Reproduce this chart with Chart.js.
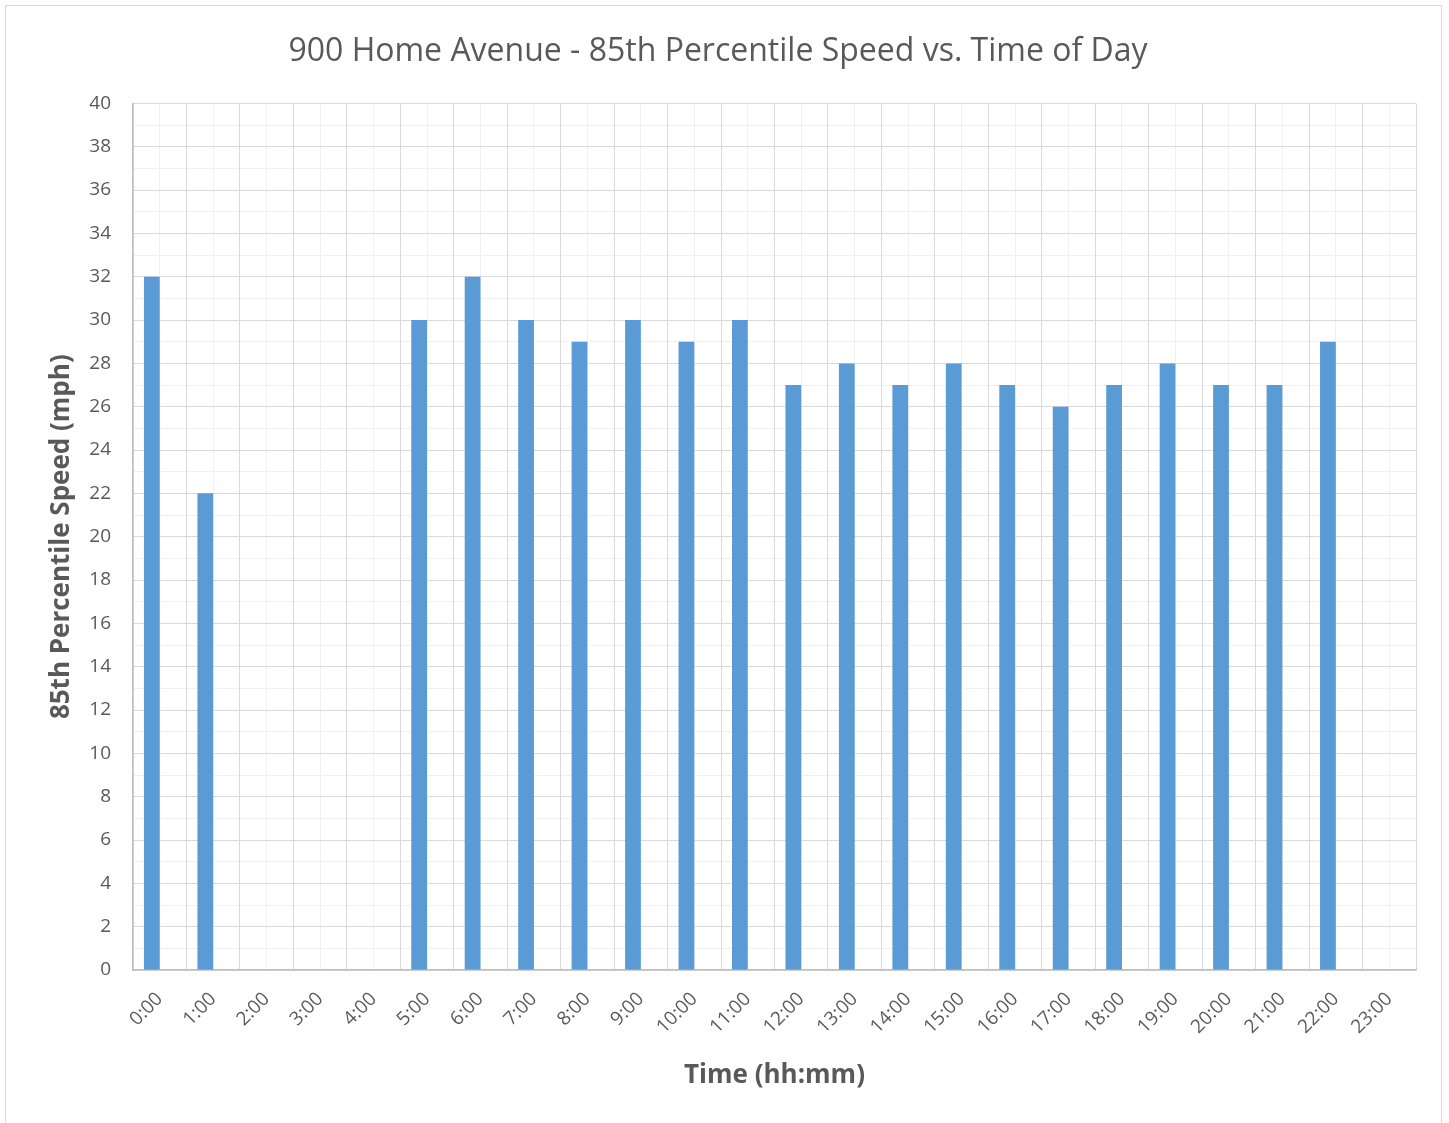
<!DOCTYPE html>
<html>
<head>
<meta charset="utf-8">
<script src="https://cdn.jsdelivr.net/npm/chart.js@4.4.1/dist/chart.umd.min.js"></script>
<style>
  html, body { margin: 0; padding: 0; background: #fff; }
  #wrap { position: absolute; left: 0; top: 0; width: 1449px; height: 1123px; }
  #frame { position: absolute; left: 5px; top: 5px; width: 1437px; height: 1125px; border: 1px solid #d9d9d9; box-sizing: border-box; }
  canvas { position: absolute; left: 0; top: 0; }
</style>
</head>
<body>
<div id="wrap">
  <div id="frame"></div>
  <canvas id="speedChart" width="1449" height="1123"></canvas>
</div>
<script>
// Datos del gráfico
const hourLabels = ['0:00', '1:00', '2:00', '3:00', '4:00', '5:00', '6:00', '7:00', '8:00', '9:00', '10:00', '11:00',
    '12:00', '13:00', '14:00', '15:00', '16:00', '17:00', '18:00', '19:00', '20:00', '21:00', '22:00', '23:00'];
const speed85 = [32, 22, null, null, null, 30, 32, 30, 29, 30, 29, 30,
    27, 28, 27, 28, 27, 26, 27, 28, 27, 27, 29, null];
const emptySeries = hourLabels.map(() => null);

const textColor = '#595959';
const baseFont = "'Open Sans', 'Liberation Sans', sans-serif";

const ctx = document.getElementById('speedChart').getContext('2d');
new Chart(ctx, {
    type: 'bar',
    data: {
        labels: hourLabels,
        datasets: [{
            label: '85th Percentile Speed',
            data: speed85,
            backgroundColor: '#5b9bd5',
            borderWidth: 0,
            xAxisID: 'x',
            yAxisID: 'y'
        }, {
            label: '',
            data: emptySeries,
            backgroundColor: '#5b9bd5',
            xAxisID: 'x',
            yAxisID: 'y'
        }]
    },
    options: {
        responsive: false,
        animation: false,
        devicePixelRatio: 1,
        categoryPercentage: 0.59,
        barPercentage: 1.0,
        layout: { padding: { left: 20, right: 33, top: 0, bottom: 0 } },
        plugins: {
            legend: { display: false },
            tooltip: { enabled: false },
            title: {
                display: true,
                text: '900 Home Avenue - 85th Percentile Speed vs. Time of Day',
                color: textColor,
                font: { family: baseFont, size: 32, weight: 'normal' },
                padding: { top: 33, bottom: 32 }
            }
        },
        scales: {
            xMinor: {
                type: 'category',
                position: 'bottom',
                offset: true,
                ticks: { display: false },
                border: { display: false },
                grid: { offset: false, color: '#f0f0f0', lineWidth: 1, drawTicks: false },
                afterFit: (s) => { s.height = 0; }
            },
            yMinor: {
                type: 'linear',
                position: 'left',
                min: 0,
                max: 40,
                ticks: { display: false, stepSize: 1 },
                border: { display: false },
                grid: { color: '#f0f0f0', lineWidth: 1, drawTicks: false },
                afterFit: (s) => { s.width = 0; }
            },
            x: {
                type: 'category',
                position: 'bottom',
                offset: true,
                grid: { offset: true, color: '#d9d9d9', lineWidth: 1, drawTicks: false },
                border: { display: true, color: '#bfbfbf', width: 1.5 },
                ticks: {
                    color: textColor,
                    font: { family: baseFont, size: 19 },
                    maxRotation: 45,
                    minRotation: 45,
                    padding: 18,
                    autoSkip: false
                },
                title: {
                    display: true,
                    text: 'Time (hh:mm)',
                    color: textColor,
                    font: { family: baseFont, size: 26, weight: 'bold' },
                    padding: { top: 0, bottom: 32 }
                },
                afterFit: (s) => { s.height = 153; }
            },
            y: {
                type: 'linear',
                position: 'left',
                min: 0,
                max: 40,
                grid: { color: '#d9d9d9', lineWidth: 1, drawTicks: false },
                border: { display: true, color: '#bfbfbf', width: 1.5 },
                ticks: {
                    stepSize: 2,
                    color: textColor,
                    font: { family: baseFont, size: 19 },
                    padding: 22
                },
                title: {
                    display: true,
                    text: '85th Percentile Speed (mph)',
                    color: textColor,
                    font: { family: baseFont, size: 26, weight: 'bold' },
                    padding: { top: 26, bottom: 0 }
                },
                afterFit: (s) => { s.width = 113; }
            }
        }
    }
});
</script>
</body>
</html>
